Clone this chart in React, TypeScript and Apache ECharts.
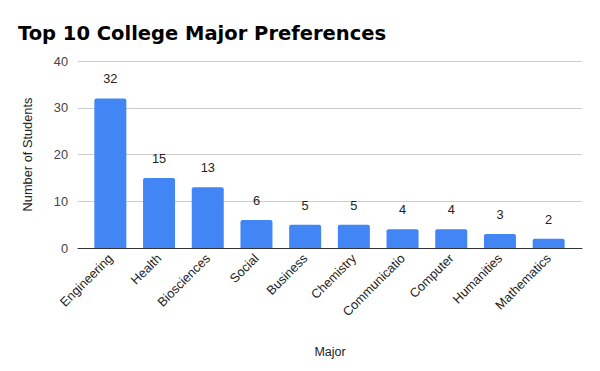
import React, { useEffect, useRef } from "react";
import * as echarts from "echarts";

const categories = ["Engineering", "Health", "Biosciences", "Social", "Business", "Chemistry", "Communicatio", "Computer", "Humanities", "Mathematics"];
const values = [32, 15, 13, 6, 5, 5, 4, 4, 3, 2];
const yTicks = { min: 0, max: 40, interval: 10 };

const FONT = "Liberation Sans, Arial, sans-serif";

export default function App() {
  const ref = useRef<HTMLDivElement>(null);
  useEffect(() => {
    if (!ref.current) return;
    const chart = echarts.init(ref.current, null, { renderer: "svg" });
    chart.setOption({
      animation: false,
      backgroundColor: "#ffffff",
      title: {
        text: "Top 10 College Major Preferences",
        left: 13,
        top: 18,
        textStyle: { fontFamily: "DejaVu Sans", fontWeight: "bold", fontSize: 19.5, color: "#000" },
      },
      grid: [
        { left: 78, right: 18, top: 61, bottom: 123 },
        { left: 86, right: 27, top: 61, bottom: 123 },
      ],
      xAxis: [
        {
          gridIndex: 0,
          type: "value",
          min: 0,
          max: 1,
          axisLine: { show: true, onZero: false, lineStyle: { color: "#333", width: 1 } },
          axisTick: { show: false },
          axisLabel: { show: false },
          splitLine: { show: false },
          name: "Major",
          nameLocation: "middle",
          nameGap: 97,
          nameTextStyle: { fontFamily: FONT, fontSize: 12.5, color: "#222" },
        },
        {
          gridIndex: 1,
          type: "category",
          data: categories,
          axisLine: { show: false },
          axisTick: { show: false },
          axisLabel: { rotate: 45, interval: 0, fontFamily: FONT, fontSize: 12.8, color: "#222", margin: 8 },
        },
      ],
      yAxis: [
        {
          gridIndex: 0,
          type: "value",
          min: yTicks.min,
          max: yTicks.max,
          interval: yTicks.interval,
          name: "Number of Students",
          nameLocation: "middle",
          nameGap: 44,
          nameTextStyle: { fontFamily: FONT, fontSize: 12.8, color: "#222" },
          axisLine: { show: false },
          axisTick: { show: false },
          axisLabel: { fontFamily: FONT, fontSize: 12.8, color: "#444", margin: 10 },
          splitLine: { lineStyle: { color: "#cccccc" } },
        },
        {
          gridIndex: 1,
          type: "value",
          min: yTicks.min,
          max: yTicks.max,
          interval: yTicks.interval,
          axisLine: { show: false },
          axisTick: { show: false },
          axisLabel: { show: false },
          splitLine: { show: false },
        },
      ],
      series: [
        {
          type: "bar",
          xAxisIndex: 1,
          yAxisIndex: 1,
          data: values,
          barWidth: 32,
          z: 3,
          itemStyle: { color: "#4285f4", borderRadius: [2, 2, 0, 0] },
          label: { show: true, position: "top", distance: 13, fontFamily: FONT, fontSize: 12.8, color: "#222" },
        },
      ],
    });
    return () => chart.dispose();
  }, []);
  return <div ref={ref} style={{ width: 600, height: 371, position: "absolute", left: 0, top: 0 }} />;
}
